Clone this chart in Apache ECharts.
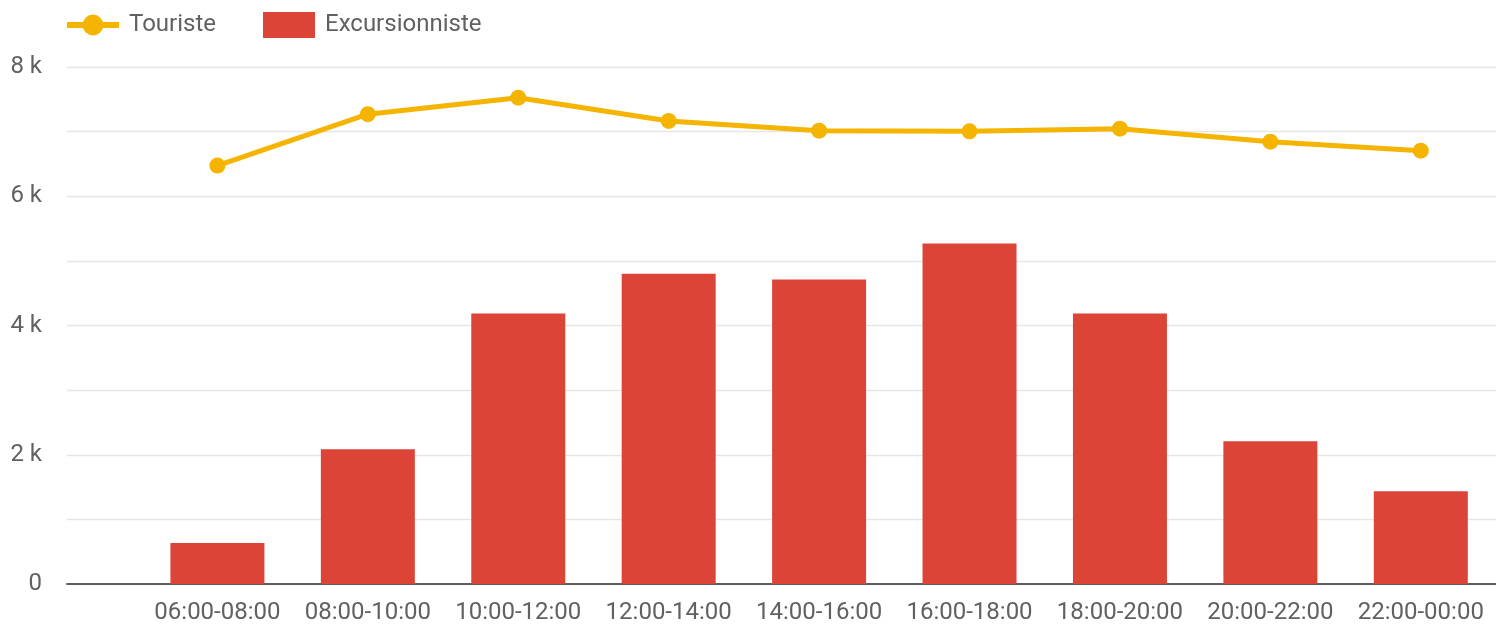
<!DOCTYPE html>
<html>
<head>
<meta charset="utf-8">
<script src="https://cdn.jsdelivr.net/npm/echarts@6/dist/echarts.min.js"></script>
<style>
html,body{margin:0;padding:0;background:#fff;}
#chart{width:1496px;height:625px;}
</style>
</head>
<body>
<div id="chart"></div>
<script>
const categories = ['06:00-08:00','08:00-10:00','10:00-12:00','12:00-14:00','14:00-16:00','16:00-18:00','18:00-20:00','20:00-22:00','22:00-00:00'];
const touriste = [6475, 7270, 7525, 7165, 7015, 7005, 7045, 6845, 6705];
const excursionniste = [633, 2085, 4185, 4800, 4710, 5270, 4185, 2208, 1436];
const yTickLabels = {0:'0', 2000:'2 k', 4000:'4 k', 6000:'6 k', 8000:'8 k'};

const chart = echarts.init(document.getElementById('chart'), null, {renderer:'canvas'});
const font = 'Roboto';
chart.setOption({
  animation:false,
  backgroundColor:'#ffffff',
  textStyle:{fontFamily:font},
  legend:{
    left:59, top:7,
    itemWidth:52, itemHeight:26, itemGap:47,
    textStyle:{fontSize:24, color:'#616161', fontFamily:font, padding:[0,0,0,5]},
    data:[
      {name:'Touriste', lineStyle:{width:6}},
      {name:'Excursionniste', icon:'rect'}
    ]
  },
  grid:{left:67, right:0, top:67, bottom:40},
  xAxis:{
    type:'value', min:-1, max:8.5, interval:1,
    splitLine:{show:false},
    axisTick:{show:false},
    axisLine:{show:true, lineStyle:{color:'#5f5f5f', width:2}},
    axisLabel:{
      fontSize:24, color:'#616161', fontFamily:font, margin:17,
      showMaxLabel:false, showMinLabel:false,
      formatter:function(v){ return (Number.isInteger(v) && v>=0 && v<categories.length) ? categories[v] : ''; }
    }
  },
  yAxis:{
    type:'value', min:0, max:8000, interval:1000,
    axisLine:{show:false}, axisTick:{show:false},
    splitLine:{lineStyle:{color:'#e6e6e6', width:1.3}},
    axisLabel:{
      fontSize:24, color:'#616161', fontFamily:font, margin:25,
      formatter:function(v){ return yTickLabels[v] !== undefined ? yTickLabels[v] : ''; }
    }
  },
  series:[
    {
      name:'Excursionniste', type:'bar', barWidth:94, z:2,
      itemStyle:{color:'#db4437'},
      data:excursionniste.map((v,i)=>[i,v])
    },
    {
      name:'Touriste', type:'line', z:3,
      symbol:'circle', symbolSize:16,
      lineStyle:{color:'#f4b400', width:5},
      itemStyle:{color:'#f4b400'},
      data:touriste.map((v,i)=>[i,v])
    }
  ]
});
</script>
</body>
</html>
